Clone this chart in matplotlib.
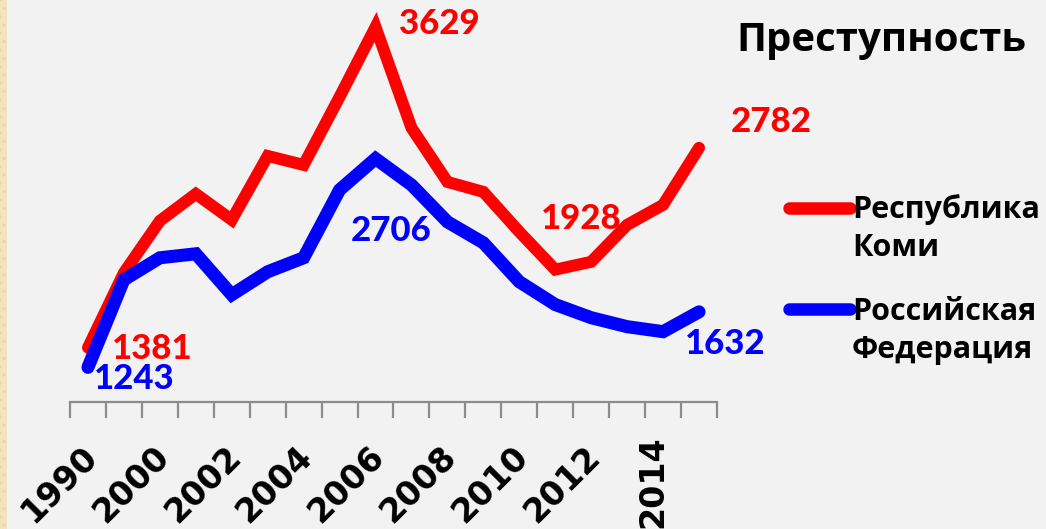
import numpy as np
import matplotlib

matplotlib.use("Agg")
import matplotlib.pyplot as plt
from matplotlib.lines import Line2D
from matplotlib.patches import Rectangle

# crime per 100k: Komi republic vs Russian Federation
years = ["1990", "1995", "2000", "2001", "2002", "2003", "2004", "2005", "2006",
         "2007", "2008", "2009", "2010", "2011", "2012", "2013", "2014", "2015"]
komi = [1381, 1906, 2270, 2459, 2277, 2725, 2662, 3139, 3629,
        2922, 2543, 2473, 2193, 1928, 1983, 2242, 2382, 2782]
russia = [1243, 1857, 2011, 2039, 1752, 1913, 2011, 2487, 2706,
          2522, 2263, 2116, 1843, 1683, 1591, 1528, 1493, 1632]
shown_years = ["1990", "2000", "2002", "2004", "2006", "2008", "2010", "2012", "2014"]

title = "Преступность"
komi_name = "Республика\nКоми"
russia_name = "Российская\nФедерация"

# which points get a value label, and where the label sits (pixels from the point)
komi_labels = {0: (64, -1), 8: (64, 3), 13: (26, 51), 17: (72, 26)}
russia_labels = {0: (46, -12), 8: (16, -72), 17: (26, -32)}

RED = "#ff0000"
BLUE = "#0000ff"
BG = "#f2f2f2"
AXIS = "#8c8c8c"

W, H = 1046, 529
fig = plt.figure(figsize=(W / 100, H / 100), dpi=100, facecolor=BG)
ax = fig.add_axes([70 / W, 1 - 402 / H, 647 / W, 399.4 / H])
ax.set_facecolor("none")

# beige dotted strip on the left edge
fig.patches.append(Rectangle((0, 0), 7 / W, 1, transform=fig.transFigure,
                             facecolor="#f4e4bd", edgecolor="#ead6a2",
                             hatch="..", lw=0, zorder=0))

x = np.arange(len(years))
ax.plot(x, komi, color=RED, lw=8.6, solid_capstyle="round",
        solid_joinstyle="miter", zorder=3)
ax.plot(x, russia, color=BLUE, lw=9.4, solid_capstyle="round",
        solid_joinstyle="miter", zorder=4)

ax.set_xlim(-0.5, len(years) - 0.5)
ax.set_ylim(1000, 3800)

for s in ("top", "right", "left"):
    ax.spines[s].set_visible(False)
ax.spines["bottom"].set_color(AXIS)
ax.spines["bottom"].set_linewidth(1.6)
ax.set_yticks([])
ax.set_xticks(np.arange(-0.5, len(years), 1.0))
ax.set_xticklabels([])
ax.tick_params(axis="x", length=11.5, width=1.6, color=AXIS, direction="out")

num_font = dict(family=["Lato", "DejaVu Sans"], fontweight="black", fontsize=25)
for values, marks, color in ((komi, komi_labels, RED), (russia, russia_labels, BLUE)):
    for i, (dx, dy) in marks.items():
        ax.annotate(str(values[i]), xy=(i, values[i]), xytext=(dx, dy),
                    textcoords="offset pixels", ha="center", va="center",
                    color=color, zorder=5, **num_font)

for yr in shown_years:
    i = years.index(yr)
    if yr == "2014":
        rot, off = 90, (-10, -33)
    else:
        rot, off = 45, (4, -50)
    ax.annotate(yr, xy=(i, 0), xycoords=("data", "axes fraction"),
                xytext=off, textcoords="offset pixels", rotation=rot,
                rotation_mode="anchor", ha="right", va="center",
                fontsize=24, fontweight="bold", family="DejaVu Sans",
                color="black", annotation_clip=False)

txt_font = dict(family=["Open Sans", "DejaVu Sans"], fontweight="bold", color="black")
fig.text(881 / W, 1 - 51 / H, title, ha="center", va="baseline", fontsize=29, **txt_font)

for name, color, y_line, y_top in ((komi_name, RED, 208, 194), (russia_name, BLUE, 309, 297)):
    fig.add_artist(Line2D([789 / W, 850 / W], [1 - y_line / H, 1 - y_line / H],
                          transform=fig.transFigure, color=color, lw=9,
                          solid_capstyle="round"))
    fig.text(852 / W, 1 - y_top / H, name, ha="left", va="top", fontsize=22,
             linespacing=1.35, **txt_font)

fig.savefig("out.png", dpi=100, facecolor=BG)
